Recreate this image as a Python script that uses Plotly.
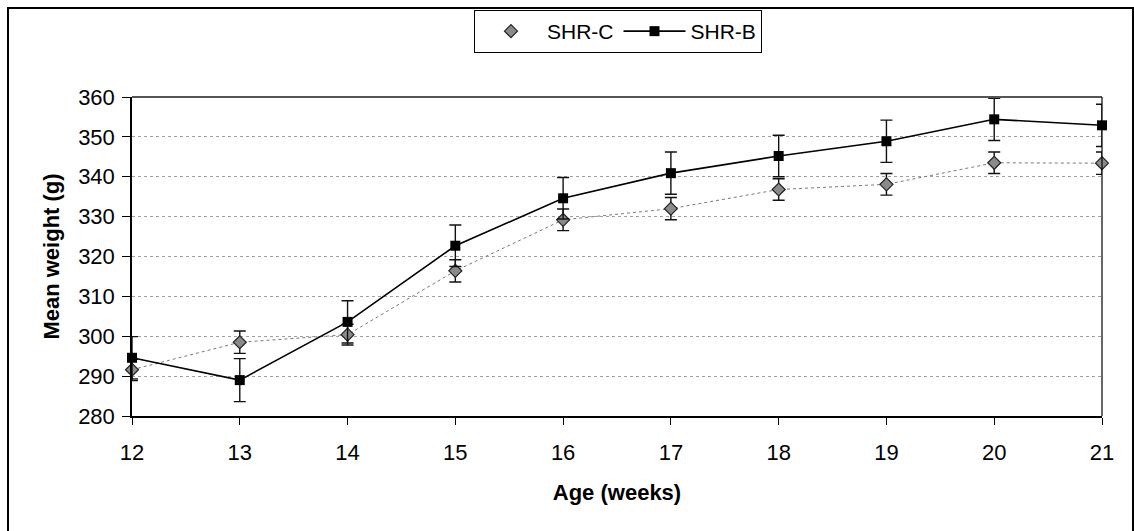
import plotly.graph_objects as go

# Body weight by age for the two groups (mean ± SEM)
weeks = [12, 13, 14, 15, 16, 17, 18, 19, 20, 21]
shr_c_mean = [291.6, 298.5, 300.4, 316.4, 329.2, 332.0, 336.8, 338.1, 343.5, 343.4]
shr_c_sem = [2.7, 2.8, 2.6, 2.8, 2.7, 2.8, 2.7, 2.7, 2.7, 2.8]
shr_b_mean = [294.6, 289.0, 303.6, 322.7, 334.6, 340.9, 345.2, 348.9, 354.4, 352.9]
shr_b_sem = [5.3, 5.4, 5.3, 5.2, 5.2, 5.3, 5.2, 5.3, 5.3, 5.3]

FONT = "Liberation Sans, Arial, sans-serif"

c_marker = dict(symbol="diamond", size=10, color="#8a8a8a",
                line=dict(color="#222222", width=1.2))

fig = go.Figure()

fig.add_trace(go.Scatter(
    x=weeks, y=shr_c_mean, name="SHR-C", mode="lines+markers",
    line=dict(color="#7a7a7a", width=1, dash="dot"),
    marker=c_marker,
    error_y=dict(type="data", array=shr_c_sem, visible=True,
                 color="#111111", thickness=1.4, width=6),
    cliponaxis=False, showlegend=False,
))
# legend key for SHR-C: marker only
fig.add_trace(go.Scatter(
    x=[None], y=[None], name="SHR-C", mode="markers", marker=c_marker,
))

fig.add_trace(go.Scatter(
    x=weeks, y=shr_b_mean, name="SHR-B", mode="lines+markers",
    line=dict(color="#000000", width=1.6),
    marker=dict(symbol="square", size=10, color="#000000"),
    error_y=dict(type="data", array=shr_b_sem, visible=True,
                 color="#111111", thickness=1.4, width=6),
    cliponaxis=False,
))

L, R, T, B = 132, 32, 97, 115
W, H = 1134, 531
pw, ph = W - L - R, H - T - B

def px_x(p):
    return (p - L) / pw

def px_y(p):
    return (H - B - p) / ph

fig.update_layout(
    width=W, height=H,
    margin=dict(l=L, r=R, t=T, b=B, autoexpand=False),
    paper_bgcolor="white", plot_bgcolor="white",
    font=dict(family=FONT, size=22, color="#000000"),
    showlegend=True,
    legend=dict(
        orientation="h", xref="container", yref="container",
        x=618 / W, xanchor="center", y=1 - 10 / H, yanchor="top",
        bordercolor="#000000", borderwidth=1, bgcolor="white",
        font=dict(family=FONT, size=21), itemwidth=62,
    ),
    xaxis=dict(
        range=[12, 21], tickmode="array", tickvals=weeks,
        showgrid=False, zeroline=False,
        showline=True, linecolor="#000000", linewidth=1.5,
        ticks="outside", ticklen=7, tickcolor="#000000",
        ticklabelstandoff=9,
        tickfont=dict(family=FONT, size=22),
        title=dict(text="<b>Age (weeks)</b>", standoff=20,
                   font=dict(family=FONT, size=22)),
        automargin=False,
    ),
    yaxis=dict(
        range=[280, 360], dtick=10,
        showgrid=True, gridcolor="#a0a0a0", gridwidth=1, griddash="dot",
        zeroline=False,
        showline=True, linecolor="#000000", linewidth=1.5,
        ticks="outside", ticklen=8, tickcolor="#000000",
        ticklabelstandoff=3,
        tickfont=dict(family=FONT, size=22),
        title=dict(text="<b>Mean weight (g)</b>", standoff=12,
                   font=dict(family=FONT, size=22)),
        automargin=False,
    ),
    shapes=[
        # top and right edges of the plotting area
        dict(type="line", xref="paper", yref="paper", x0=0, x1=1, y0=1, y1=1,
             line=dict(color="#555555", width=2)),
        dict(type="line", xref="paper", yref="paper", x0=1, x1=1, y0=0, y1=1,
             line=dict(color="#000000", width=1.2)),
        # frame round the whole chart
        dict(type="rect", xref="paper", yref="paper",
             x0=px_x(8), x1=px_x(1133), y0=px_y(545), y1=px_y(8),
             line=dict(color="#000000", width=2), layer="below"),
    ],
)

fig.write_html("out.html")
